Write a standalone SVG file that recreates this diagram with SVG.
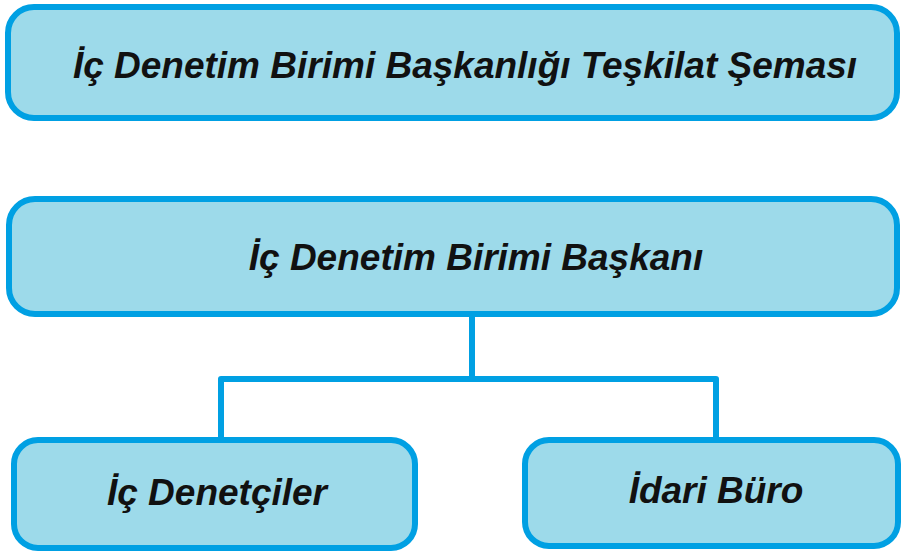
<svg xmlns="http://www.w3.org/2000/svg" width="902" height="552" viewBox="0 0 902 552">
<style>
.box{fill:#9ddaea;stroke:#00a0e3;stroke-width:6}
.lbl{font-family:"Liberation Sans",Arial,sans-serif;font-weight:bold;font-style:italic;font-size:37px;fill:#111;text-anchor:middle}
.con{fill:none;stroke:#00a0e3;stroke-width:6;stroke-linejoin:round}
</style>
<rect width="902" height="552" fill="#fff"/>
<g id="connectors">
<path class="con" d="M472 314 V379 M221 440 V379 H716 V440"/>
</g>
<g id="title">
<rect class="box" x="8" y="7" width="889" height="111" rx="26"/>
<text class="lbl" x="465" y="78">İç Denetim Birimi Başkanlığı Teşkilat Şeması</text>
</g>
<g id="baskan">
<rect class="box" x="9" y="199" width="888" height="115" rx="26"/>
<text class="lbl" x="476" y="270">İç Denetim Birimi Başkanı</text>
</g>
<g id="denetciler">
<rect class="box" x="14" y="440" width="401" height="108" rx="24"/>
<text class="lbl" x="217" y="505">İç Denetçiler</text>
</g>
<g id="buro">
<rect class="box" x="525" y="440" width="373" height="106" rx="24"/>
<text class="lbl" x="716" y="503">İdari Büro</text>
</g>
</svg>
